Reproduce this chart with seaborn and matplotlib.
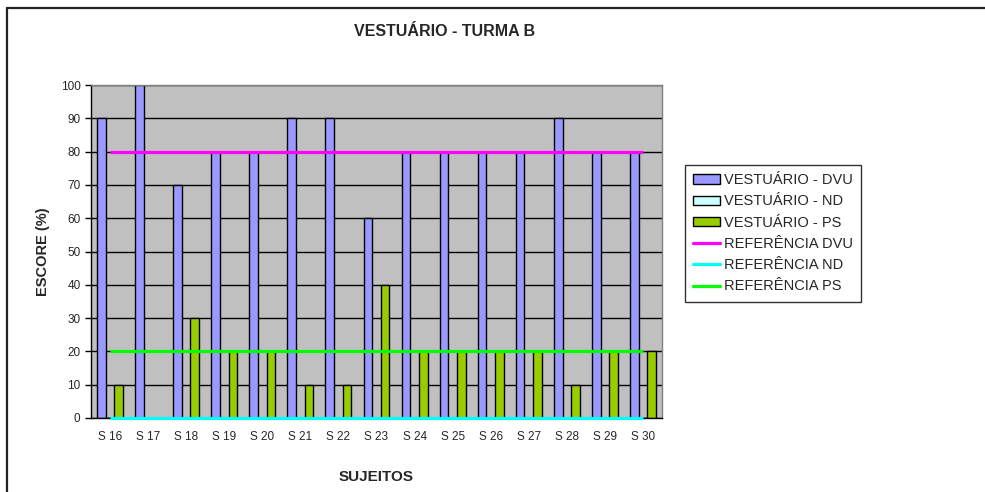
import numpy as np
import pandas as pd
import matplotlib
matplotlib.use("Agg")
import matplotlib.pyplot as plt
from matplotlib.patches import Patch
from matplotlib.lines import Line2D
import seaborn as sns

# data
sujeitos = ["S 16", "S 17", "S 18", "S 19", "S 20", "S 21", "S 22", "S 23",
            "S 24", "S 25", "S 26", "S 27", "S 28", "S 29", "S 30"]
dvu = [90, 100, 70, 80, 80, 90, 90, 60, 80, 80, 80, 80, 90, 80, 80]
nd = [0, 0, 0, 0, 0, 0, 0, 0, 0, 0, 0, 0, 0, 0, 0]
ps = [10, 0, 30, 20, 20, 10, 10, 40, 20, 20, 20, 20, 10, 20, 20]
ref_dvu = [80] * len(sujeitos)
ref_nd = [0] * len(sujeitos)
ref_ps = [20] * len(sujeitos)

series_names = ["VESTUÁRIO - DVU", "VESTUÁRIO - ND", "VESTUÁRIO - PS"]
bar_colors = ["#9999FF", "#CCFFFF", "#99CC00"]
ref_names = ["REFERÊNCIA DVU", "REFERÊNCIA ND", "REFERÊNCIA PS"]
ref_colors = ["#FF00FF", "#00FFFF", "#00FF00"]

df = pd.DataFrame({
    "sujeito": sujeitos * 3,
    "serie": [s for s in series_names for _ in sujeitos],
    "valor": dvu + nd + ps,
})

sns.set_style("white")
plt.rcParams["font.family"] = ["Liberation Sans", "DejaVu Sans"]

fig = plt.figure(figsize=(9.85, 4.92), dpi=100)
ax = fig.add_axes([91 / 985, 1 - 418 / 492, (662 - 91) / 985, (418 - 85) / 492])
ax.set_facecolor("#C0C0C0")

sns.barplot(data=df, x="sujeito", y="valor", hue="serie", order=sujeitos,
            hue_order=series_names, palette=bar_colors, width=0.68,
            edgecolor="black", linewidth=1, saturation=1, ax=ax, legend=False,
            zorder=2)

pos = np.arange(len(sujeitos))
for vals, c in zip([ref_dvu, ref_nd, ref_ps], ref_colors):
    ax.plot(pos, vals, color=c, lw=2.3, zorder=4, solid_capstyle="butt", clip_on=False)

ax.set_xlim(-0.5, len(sujeitos) - 0.5)
ax.set_ylim(0, 100)
ax.set_yticks(range(0, 101, 10))
ax.yaxis.grid(True, color="black", lw=1)
ax.set_axisbelow(True)
ax.set_xticks(pos)
ax.set_xticklabels(sujeitos)
ax.set_xticks(np.arange(-0.5, len(sujeitos), 1), minor=True)
ax.tick_params(axis="x", which="major", length=0, labelsize=8.5, pad=9)
ax.tick_params(axis="x", which="minor", length=4, width=1, color="black", direction="out")
ax.tick_params(axis="y", length=4, width=1, color="black", direction="out", labelsize=8.5, pad=3.5)
ax.tick_params(left=True, bottom=True)
for side in ["left", "bottom"]:
    ax.spines[side].set_color("black")
    ax.spines[side].set_linewidth(1)
for side in ["top", "right"]:
    ax.spines[side].set_color("#808080")
    ax.spines[side].set_linewidth(1)

ax.set_xlabel("SUJEITOS", fontsize=11, fontweight="bold", labelpad=20)
ax.set_ylabel("ESCORE (%)", fontsize=10.5, fontweight="bold", labelpad=8)
fig.text(445 / 985, 1 - 31 / 492, "VESTUÁRIO - TURMA B", ha="center", va="center",
         fontsize=11.5, fontweight="bold")

handles = [Patch(facecolor=c, edgecolor="black", lw=1) for c in bar_colors]
handles += [Line2D([0], [0], color=c, lw=2.3) for c in ref_colors]
leg = fig.legend(handles, series_names + ref_names, loc="upper left",
                 bbox_to_anchor=(685 / 985, 1 - 165 / 492), fontsize=10.5,
                 frameon=True, fancybox=False, edgecolor="black",
                 handlelength=1.85, handleheight=0.6, handletextpad=0.3,
                 labelspacing=0.5, borderpad=0.55, borderaxespad=0)
leg.get_frame().set_linewidth(1)

# outer chart border (left and top visible)
fig.add_artist(Line2D([7 / 985, 7 / 985], [0, 1 - 8 / 492], color="#222222", lw=1.6,
                      transform=fig.transFigure))
fig.add_artist(Line2D([7 / 985, 1], [1 - 8 / 492, 1 - 8 / 492], color="#222222", lw=1.6,
                      transform=fig.transFigure))

fig.savefig("out.png", dpi=100)
